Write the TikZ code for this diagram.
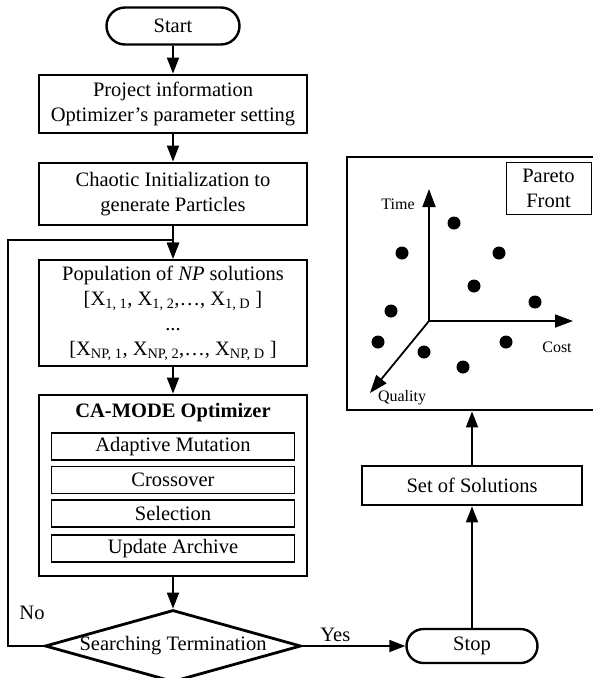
\documentclass[tikz,border=0pt]{standalone}
\usepackage{fontspec}
\setmainfont{Liberation Serif}
\usetikzlibrary{arrows.meta,shapes.geometric,shapes.misc}

\begin{document}
\begin{tikzpicture}[x=1pt,y=-1pt,
    every node/.style={font=\fontsize{20.5}{25}\selectfont},
    box/.style={draw,line width=2.8pt,minimum width=268pt,align=center,inner sep=0pt},
    subbox/.style={draw,line width=1.6pt,minimum width=243pt,minimum height=27pt,inner sep=0pt},
    term/.style={draw,rounded rectangle,line width=2.4pt,inner sep=0pt},
    flow/.style={line width=1.8pt,-{Triangle[length=16pt,width=12pt]}},
    axis/.style={line width=1.8pt,-{Triangle[length=18pt,width=13pt]}},
    small/.style={font=\fontsize{16}{19}\selectfont}]
  \useasboundingbox (0,0) rectangle (593,678);
  \node[term,minimum width=133pt,minimum height=37pt] (start) at (173,26) {Start};
  \node[box,minimum height=58pt] (info) at (173,104)
    {Project information\\Optimizer’s parameter setting};
  \node[box,minimum height=62pt] (init) at (173,194)
    {Chaotic Initialization to\\generate Particles};
  \node[box,minimum height=106pt] (pop) at (173,313)
    {Population of \textit{NP} solutions\\
     {[}X\textsubscript{1, 1}, X\textsubscript{1, 2},\ldots, X\textsubscript{1, D} ]\\
     ...\\
     {[}X\textsubscript{NP, 1}, X\textsubscript{NP, 2},\ldots, X\textsubscript{NP, D} ]};
  \node[box,minimum height=181pt] (opt) at (173,485.5) {};
  \node[font=\bfseries\fontsize{20.5}{25}\selectfont] (opttitle) at (173,413) {CA-MODE Optimizer};
  \node[subbox] (mut) at (173,446.5) {Adaptive Mutation};
  \node[subbox] (cross) at (173,480) {Crossover};
  \node[subbox] (sel) at (173,513.5) {Selection};
  \node[subbox] (arch) at (173,548.5) {Update Archive};
  \node[draw,diamond,aspect=3.55,line width=2.8pt,inner sep=0pt,
        minimum width=256pt,minimum height=72pt] (dec) at (173,646) {Searching Termination};
  \node[term,minimum width=131pt,minimum height=34pt] (stop) at (472,646) {Stop};
  \node[box,minimum width=220pt,minimum height=39pt] (sol) at (472,485.5) {Set of Solutions};
  \node[box,minimum width=250pt,minimum height=253pt] (pareto) at (472,283.5) {};
  \node[draw,line width=0.8pt,minimum width=85pt,minimum height=52pt,align=center,
        inner sep=0pt] (front) at (548.5,188) {Pareto\\Front};

  \coordinate (o) at (429,321);
  \coordinate (time) at (429,189);
  \coordinate (cost) at (573,321);
  \coordinate (qual) at (370,393);
  \draw[axis] (o) -- (time);
  \draw[axis] (o) -- (cost);
  \draw[axis] (o) -- (qual);
  \node[small] (timelbl) at (398,204) {Time};
  \node[small] (costlbl) at (557,347) {Cost};
  \node[small] (quallbl) at (402,398) {Quality};
  \foreach \x/\y in {454/223,402/253,499/253,474/286,535/302,391/311,378/342,506/342,424/352,463/367}
    \fill (\x,\y) circle (6.5pt);

  \coordinate (back) at (8,240);
  \coordinate (merge) at (173,240);
  \path[flow]
    (start) edge (info)
    (info) edge (init)
    (init) edge (pop)
    (merge) edge (pop)
    (pop) edge (opt)
    (opt) edge (dec)
    (dec) edge node[above,pos=0.32] (yes) {Yes} (stop)
    (stop) edge (sol)
    (sol) edge (pareto);
  \draw[line width=1.8pt] (dec.west) -| (back) -- (merge);
  \node (no) at (32,613) {No};
\end{tikzpicture}
\end{document}
